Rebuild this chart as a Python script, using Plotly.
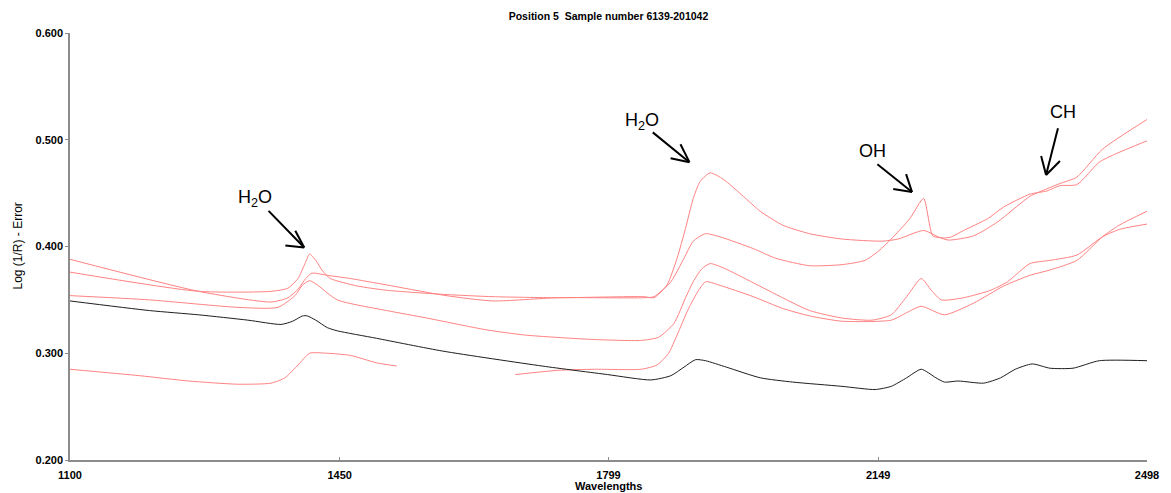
import plotly.graph_objects as go

# ---- data (wavelength, log(1/R) - error) ----
wl_q = [1100, 1267, 1361, 1383, 1396, 1405, 1411, 1419, 1428, 1438, 1473, 1511, 1588, 1649, 1733, 1845, 1858,
        1875, 1888, 1899, 1909, 1918, 1931, 1948, 1974, 1996, 2025, 2060, 2102, 2154, 2175, 2208, 2227, 2240,
        2273, 2304, 2346, 2368, 2385, 2407, 2440, 2498]
val_q = [0.376, 0.358, 0.358, 0.361, 0.370, 0.384, 0.393, 0.387, 0.377, 0.370, 0.363, 0.359, 0.355, 0.353, 0.352, 0.353, 0.352,
         0.364, 0.389, 0.417, 0.445, 0.461, 0.469, 0.463, 0.447, 0.433, 0.420, 0.412, 0.407, 0.405, 0.407, 0.415, 0.409, 0.406,
         0.410, 0.423, 0.447, 0.454, 0.459, 0.465, 0.491, 0.519]

wl_p = [1100, 1267, 1361, 1383, 1396, 1406, 1414, 1434, 1464, 1511, 1588, 1649, 1733, 1845, 1858,
        1880, 1897, 1909, 1925, 1944, 1987, 2016, 2060, 2102, 2132, 2150, 2166, 2190, 2208, 2220, 2235, 2244,
        2260, 2291, 2312, 2346, 2368, 2385, 2407, 2436, 2458, 2498]
val_p = [0.388, 0.358, 0.348, 0.352, 0.360, 0.370, 0.375, 0.373, 0.370, 0.364, 0.354, 0.349, 0.352, 0.352, 0.353,
         0.367, 0.389, 0.405, 0.412, 0.409, 0.398, 0.389, 0.382, 0.383, 0.387, 0.396, 0.407, 0.426, 0.445, 0.410, 0.408, 0.409,
         0.415, 0.426, 0.437, 0.449, 0.452, 0.457, 0.458, 0.479, 0.487, 0.499]

wl_c = [1100, 1203, 1318, 1370, 1392, 1402, 1411, 1421, 1447, 1511, 1563, 1640, 1691, 1777, 1841, 1864, 1884,
        1899, 1909, 1920, 1931, 1948, 1987, 2025, 2060, 2102, 2141, 2166, 2186, 2205, 2218, 2231, 2260, 2295,
        2317, 2346, 2372, 2407, 2440, 2462, 2498]
val_c = [0.354, 0.350, 0.343, 0.343, 0.354, 0.364, 0.368, 0.364, 0.350, 0.340, 0.333, 0.322, 0.317, 0.313, 0.312, 0.315, 0.328,
         0.352, 0.367, 0.379, 0.384, 0.380, 0.366, 0.352, 0.340, 0.333, 0.331, 0.336, 0.353, 0.370, 0.359, 0.350, 0.352, 0.359,
         0.367, 0.384, 0.387, 0.392, 0.409, 0.416, 0.421]

wl_e = [1100, 1190, 1254, 1318, 1361, 1379, 1396, 1411, 1434, 1464, 1498, 1524, 1600,
        1678, 1733, 1781, 1841, 1862, 1877, 1888, 1903, 1916, 1925, 1942, 1987, 2025, 2060, 2102, 2166,
        2186, 2205, 2235, 2273, 2312, 2346, 2372, 2407, 2440, 2462, 2498]
val_e = [0.285, 0.279, 0.274, 0.271, 0.272, 0.277, 0.289, 0.300, 0.300, 0.298, 0.291, 0.288, None,
         0.280, 0.284, 0.285, 0.285, 0.289, 0.300, 0.317, 0.342, 0.359, 0.367, 0.364, 0.353, 0.342, 0.335, 0.330, 0.331,
         0.338, 0.344, 0.336, 0.347, 0.363, 0.373, 0.378, 0.387, 0.409, 0.420, 0.433]

wl_k = [1100, 1203, 1267, 1331, 1374, 1389, 1402, 1408, 1419, 1434, 1447, 1498, 1584, 1713, 1798, 1854, 1880,
        1897, 1912, 1925, 1952, 1996, 2038, 2102, 2145, 2166, 2186, 2205, 2224, 2235, 2253, 2286, 2308, 2327,
        2349, 2372, 2402, 2436, 2498]
val_k = [0.349, 0.340, 0.336, 0.331, 0.327, 0.330, 0.335, 0.335, 0.331, 0.324, 0.321, 0.314, 0.302, 0.288, 0.280, 0.275, 0.279,
         0.287, 0.294, 0.293, 0.287, 0.277, 0.273, 0.269, 0.266, 0.269, 0.277, 0.285, 0.277, 0.273, 0.274, 0.272, 0.277, 0.285,
         0.290, 0.286, 0.286, 0.293, 0.293]

x_ticks = [1100, 1450, 1799, 2149, 2498]
y_ticks = [0.2, 0.3, 0.4, 0.5, 0.6]
y_ticktext = ["0.200", "0.300", "0.400", "0.500", "0.600"]

# band labels: text, arrow tip (wavelength, value), label centre (wavelength, value)
band_text = ["H<sub>2</sub>O", "H<sub>2</sub>O", "OH", "CH"]
band_tip_wl = [1404, 1904, 2193, 2367]
band_tip_val = [0.399, 0.479, 0.451, 0.467]
band_lab_wl = [1340, 1843, 2142, 2389]
band_lab_val = [0.445, 0.517, 0.489, 0.526]

RED = "rgb(255,130,130)"
FONT = "Liberation Sans, Arial, sans-serif"

X_RANGE = [1100, 2498]
Y_RANGE = [0.2, 0.6]
W, H = 1171, 493
M = dict(l=70, r=13, t=33, b=30)
plot_w = W - M["l"] - M["r"]
plot_h = H - M["t"] - M["b"]
wl_per_px = (X_RANGE[1] - X_RANGE[0]) / plot_w
val_per_px = (Y_RANGE[1] - Y_RANGE[0]) / plot_h

fig = go.Figure()
red_series = [(wl_q, val_q), (wl_p, val_p), (wl_c, val_c), (wl_e, val_e)]
for wl, val in red_series:
    fig.add_trace(go.Scatter(x=wl, y=val, mode="lines",
                             line=dict(color=RED, width=1, shape="spline", smoothing=0.6),
                             connectgaps=False, hoverinfo="skip", showlegend=False))
fig.add_trace(go.Scatter(x=wl_k, y=val_k, mode="lines",
                         line=dict(color="rgb(30,30,30)", width=1, shape="spline", smoothing=0.6),
                         hoverinfo="skip", showlegend=False))

# arrows drawn as shapes: shaft tail and open-V head arms as pixel offsets (screen: +x right, +y down)
tails = [(-36, -37), (-37, -30), (-35, -28), (12, -47)]
arms1 = [(-19, -2), (-19, -4), (-19, -3), (-5, -19)]
arms2 = [(-9, -17), (-9, -18), (-6, -18), (14, -14)]
shapes = []
annotations = []
for i in range(len(band_text)):
    annotations.append(dict(x=band_lab_wl[i], y=band_lab_val[i], xref="x", yref="y", text=band_text[i],
                            showarrow=False, font=dict(family=FONT, size=18, color="black"),
                            xanchor="center", yanchor="middle"))
    tx, ty = band_tip_wl[i], band_tip_val[i]
    for off in (tails[i], arms1[i], arms2[i]):
        shapes.append(dict(type="line", xref="x", yref="y",
                           x0=tx, y0=ty,
                           x1=tx + off[0] * wl_per_px, y1=ty - off[1] * val_per_px,
                           line=dict(color="black", width=2)))

annotations.append(dict(x=0, y=0.5, xref="paper", yref="paper", text="Log (1/R) - Error", textangle=-90,
                        showarrow=False, xshift=-53, font=dict(family=FONT, size=12, color="black"),
                        xanchor="center", yanchor="middle"))
annotations.append(dict(x=0.5, y=0, xref="paper", yref="paper", text="Wavelengths",
                        showarrow=False, yshift=-26, font=dict(family=FONT, size=11, color="black", weight="bold"),
                        xanchor="center", yanchor="middle"))

fig.update_layout(
    width=W, height=H,
    margin=M,
    paper_bgcolor="white", plot_bgcolor="white",
    title=dict(text="Position 5  Sample number 6139-201042", x=0.5, xref="paper", xanchor="center",
               y=1 - 16 / H, yref="container", yanchor="middle",
               font=dict(family=FONT, size=10.5, color="black", weight="bold")),
    annotations=annotations,
    shapes=shapes,
    xaxis=dict(range=X_RANGE, tickvals=x_ticks, ticktext=[str(t) for t in x_ticks],
               showgrid=False, zeroline=False, showline=True, linecolor="rgb(140,140,140)", linewidth=1.5,
               ticks="inside", ticklen=3, tickcolor="rgb(140,140,140)", ticklabelstandoff=4,
               tickfont=dict(family=FONT, size=11, color="black", weight="bold")),
    yaxis=dict(range=Y_RANGE, tickvals=y_ticks, ticktext=y_ticktext,
               showgrid=False, zeroline=False, showline=True, linecolor="rgb(140,140,140)", linewidth=1.5,
               ticks="outside", ticklen=3, tickcolor="rgb(140,140,140)",
               tickfont=dict(family=FONT, size=11, color="black", weight="bold")),
)

fig.write_html("out.html")
